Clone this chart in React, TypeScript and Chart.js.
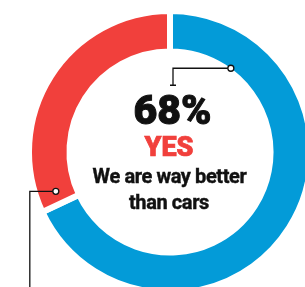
import React, { useEffect, useRef } from "react";
import { Chart, registerables } from "chart.js";

Chart.register(...registerables);

const labels = ["Yes", "No"];
const values = [68, 32];
const colors = ["#039bd8", "#f1403c"];
const headline = "68%";
const answer = "YES";
const lines = ["We are way better", "than cars"];

const leaderPlugin = {
  id: "leaders",
  afterDraw(chart: any) {
    const meta = chart.getDatasetMeta(0);
    const arc = meta.data[0];
    if (!arc) return;
    const { x, y, innerRadius, outerRadius } = arc.getProps(
      ["x", "y", "innerRadius", "outerRadius"],
      true
    );
    const ctx = chart.ctx;
    const bw = 6;
    const vin = innerRadius + bw / 2;
    const mid = (innerRadius + outerRadius) / 2;
    ctx.save();
    ctx.strokeStyle = "#111";
    ctx.lineWidth = 1.3;
    // blue leader (top)
    const a1 = (36 * Math.PI) / 180;
    const p1x = x + vin * Math.sin(a1);
    const p1y = y - vin * Math.cos(a1);
    const cx1 = x + 3;
    const by1 = p1y + 17;
    ctx.beginPath();
    ctx.moveTo(p1x, p1y);
    ctx.lineTo(cx1, p1y);
    ctx.lineTo(cx1, by1);
    ctx.moveTo(cx1 - 3, by1);
    ctx.lineTo(cx1 + 3, by1);
    ctx.stroke();
    ctx.beginPath();
    ctx.arc(p1x, p1y, 3, 0, Math.PI * 2);
    ctx.fillStyle = "#fff";
    ctx.fill();
    ctx.stroke();
    // red leader (left)
    const a2 = (251 * Math.PI) / 180;
    const p2x = x + mid * Math.sin(a2);
    const p2y = y - mid * Math.cos(a2);
    const lx = p2x - 26;
    ctx.beginPath();
    ctx.moveTo(p2x, p2y);
    ctx.lineTo(lx, p2y);
    ctx.lineTo(lx, chart.height + 5);
    ctx.stroke();
    ctx.beginPath();
    ctx.arc(p2x, p2y, 3, 0, Math.PI * 2);
    ctx.fillStyle = "#fff";
    ctx.fill();
    ctx.stroke();
    ctx.restore();
  },
};

export default function App() {
  const ref = useRef<HTMLCanvasElement>(null);
  useEffect(() => {
    if (!ref.current) return;
    const chart = new Chart(ref.current, {
      type: "doughnut",
      data: {
        labels,
        datasets: [
          {
            data: values,
            backgroundColor: colors,
            borderColor: "#ffffff",
            borderWidth: 6,
            hoverOffset: 0,
          },
        ],
      },
      options: {
        responsive: false,
        animation: false,
        cutout: "71.3%",
        layout: { padding: { left: 26, top: 8, right: 0, bottom: 0 } },
        plugins: {
          legend: { display: false },
          tooltip: { enabled: false },
        },
      },
      plugins: [leaderPlugin],
    });
    return () => chart.destroy();
  }, []);

  const font = "Roboto, 'Liberation Sans', sans-serif";
  const base: React.CSSProperties = {
    position: "absolute",
    left: 0,
    width: 340,
    textAlign: "center",
    lineHeight: 1,
    fontFamily: font,
    whiteSpace: "nowrap",
  };
  return (
    <div
      style={{
        position: "fixed",
        left: 0,
        top: 0,
        width: 305,
        height: 287,
        overflow: "hidden",
        background: "#fff",
      }}
    >
      <canvas
        ref={ref}
        width={314}
        height={296}
        style={{ position: "absolute", left: 0, top: 0, width: 314, height: 296 }}
      />
      <div style={{ ...base, left: 172.5 - 170, top: 89.5, fontSize: 41, fontWeight: 900, color: "#111", WebkitTextStroke: "1px #111" }}>
        {headline}
      </div>
      <div style={{ ...base, left: 169 - 170, top: 134.3, fontSize: 27, fontWeight: 900, color: colors[1], WebkitTextStroke: "0.7px " + colors[1] }}>
        {answer}
      </div>
      <div style={{ ...base, left: 169.5 - 170, top: 165.7, fontSize: 20, fontWeight: 700, color: "#111", letterSpacing: -0.4, WebkitTextStroke: "0.4px #111" }}>
        {lines[0]}
      </div>
      <div style={{ ...base, left: 169 - 170, top: 192.2, fontSize: 20, fontWeight: 700, color: "#111", letterSpacing: -0.4, WebkitTextStroke: "0.4px #111" }}>
        {lines[1]}
      </div>
    </div>
  );
}
